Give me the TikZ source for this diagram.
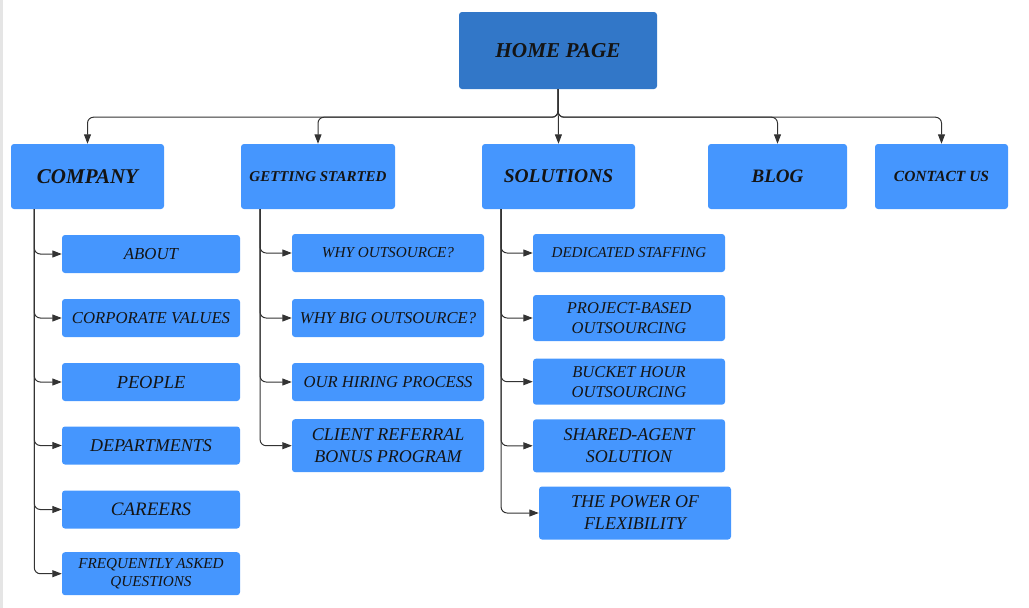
\documentclass[tikz,border=0pt]{standalone}
\usepackage{fontspec}
\setmainfont{Liberation Serif}
\usepackage{tikz}
\usetikzlibrary{arrows.meta,positioning}
\definecolor{homeblue}{HTML}{3277C8}
\definecolor{pageblue}{HTML}{4596FE}
\definecolor{linkgray}{HTML}{333333}
\definecolor{labelink}{HTML}{141414}
\newcommand{\boxfont}[2]{\fontsize{#1pt}{#2pt}\selectfont}

\begin{document}
\begin{tikzpicture}[
  x=1pt, y=-1pt,
  page/.style={fill=pageblue, rounded corners=3pt, inner sep=0pt,
    align=center, text=labelink},
  top/.style={page, minimum height=65pt},
  sub/.style={page, minimum height=38pt},
  link/.style={draw=linkgray, line width=1pt, rounded corners=6pt,
    -{Triangle[length=9.5pt,width=7pt]}}
]
\useasboundingbox (0,0) rectangle (1029,608);
\fill[gray!20] (0,0) rectangle (2.5,608);

\node[page, fill=homeblue, minimum width=198pt, minimum height=77pt, font=\boxfont{21.2}{26}\bfseries\itshape] (home) at (558,50.5) {HOME PAGE};

\node[top, minimum width=153pt, font=\boxfont{21}{25}\bfseries\itshape] (company) at (87.5,176.5) {COMPANY};
\node[top, minimum width=154pt, font=\boxfont{15}{18}\bfseries\itshape] (started) at (318,176.5) {GETTING STARTED};
\node[top, minimum width=153pt, font=\boxfont{19.5}{23}\bfseries\itshape] (solutions) at (558.5,176.5) {SOLUTIONS};
\node[top, minimum width=139pt, font=\boxfont{19}{23}\bfseries\itshape] (blog) at (777.5,176.5) {BLOG};
\node[top, minimum width=133pt, font=\boxfont{15.5}{18}\bfseries\itshape] (contact) at (941.5,176.5) {CONTACT US};

% company pages
\node[sub, minimum width=178pt, font=\boxfont{16.8}{21}\itshape] (about) at (151,254) {ABOUT};
\node[sub, minimum width=178pt, font=\boxfont{16.7}{21}\itshape] (values) at (151,318) {CORPORATE VALUES};
\node[sub, minimum width=178pt, font=\boxfont{18.4}{22}\itshape] (people) at (151,382) {PEOPLE};
\node[sub, minimum width=178pt, font=\boxfont{18}{22}\itshape] (departments) at (151,445.5) {DEPARTMENTS};
\node[sub, minimum width=178pt, font=\boxfont{19}{22}\itshape] (careers) at (151,509.5) {CAREERS};
\node[sub, minimum width=178pt, minimum height=43pt, font=\boxfont{15.2}{18.5}\itshape] (faq) at (151,573.7) {FREQUENTLY ASKED\\QUESTIONS};

% getting started pages
\node[sub, minimum width=192pt, font=\boxfont{15.2}{19}\itshape] (whyout) at (388,253) {WHY OUTSOURCE?};
\node[sub, minimum width=192pt, font=\boxfont{16.6}{21}\itshape] (whybig) at (388,318) {WHY BIG OUTSOURCE?};
\node[sub, minimum width=192pt, font=\boxfont{16.6}{21}\itshape] (hiring) at (388,382) {OUR HIRING PROCESS};
\node[sub, minimum width=192pt, minimum height=53pt, font=\boxfont{18}{22}\itshape] (referral) at (388,445.7) {CLIENT REFERRAL\\BONUS PROGRAM};

% solutions pages
\node[sub, minimum width=192pt, font=\boxfont{15}{18}\itshape] (staffing) at (629,253) {DEDICATED STAFFING};
\node[sub, minimum width=192pt, minimum height=46pt, font=\boxfont{16.5}{20}\itshape] (project) at (629,318) {PROJECT-BASED\\OUTSOURCING};
\node[sub, minimum width=192pt, minimum height=46pt, font=\boxfont{16.5}{20}\itshape] (bucket) at (629,381.7) {BUCKET HOUR\\OUTSOURCING};
\node[sub, minimum width=192pt, minimum height=53pt, font=\boxfont{18}{22}\itshape] (shared) at (629,445.8) {SHARED-AGENT\\SOLUTION};
\node[sub, minimum width=192pt, minimum height=53pt, font=\boxfont{18}{22}\itshape] (flexibility) at (635,513) {THE POWER OF\\FLEXIBILITY};

\draw[link] (home.south) -- ++(0,28) -| (company.north);
\draw[link] (home.south) -- ++(0,28) -| (started.north);
\draw[link] (home.south) -- (solutions.north);
\draw[link] (home.south) -- ++(0,28) -| (blog.north);
\draw[link] (home.south) -- ++(0,28) -| (contact.north);

\draw[link] ([xshift=23.5pt]company.south west) |- (about.west);
\draw[link] ([xshift=23.5pt]company.south west) |- (values.west);
\draw[link] ([xshift=23.5pt]company.south west) |- (people.west);
\draw[link] ([xshift=23.5pt]company.south west) |- (departments.west);
\draw[link] ([xshift=23.5pt]company.south west) |- (careers.west);
\draw[link] ([xshift=23.5pt]company.south west) |- (faq.west);

\draw[link] ([xshift=19.3pt]started.south west) |- (whyout.west);
\draw[link] ([xshift=19.3pt]started.south west) |- (whybig.west);
\draw[link] ([xshift=19.3pt]started.south west) |- (hiring.west);
\draw[link] ([xshift=19.3pt]started.south west) |- (referral.west);

\draw[link] ([xshift=19.3pt]solutions.south west) |- (staffing.west);
\draw[link] ([xshift=19.3pt]solutions.south west) |- (project.west);
\draw[link] ([xshift=19.3pt]solutions.south west) |- (bucket.west);
\draw[link] ([xshift=19.3pt]solutions.south west) |- (shared.west);
\draw[link] ([xshift=19.3pt]solutions.south west) |- (flexibility.west);
\end{tikzpicture}
\end{document}
